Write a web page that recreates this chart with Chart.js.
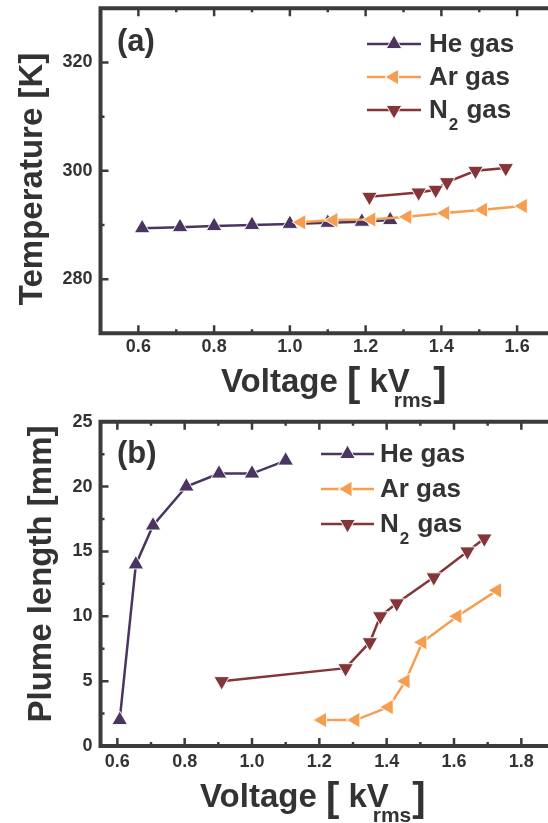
<!DOCTYPE html>
<html>
<head>
<meta charset="utf-8">
<script src="https://cdn.jsdelivr.net/npm/chart.js@4.4.1/dist/chart.umd.min.js"></script>
<style>
  html, body { margin: 0; padding: 0; background: #fff; overflow: hidden; }
  #wrap { position: relative; width: 548px; height: 823px; overflow: hidden; }
  canvas { position: absolute; left: 0; }
  #chartA { top: 0; }
  #chartB { top: 410px; }
</style>
</head>
<body>
<div id="wrap">
  <canvas id="chartA" width="558" height="410"></canvas>
  <canvas id="chartB" width="558" height="413"></canvas>
</div>
<script>
// (a) temperatura frente a voltaje
const heVoltA = [0.61, 0.71, 0.80, 0.90, 1.00, 1.10, 1.19, 1.265];
const heTempA = [289.4, 289.6, 289.8, 290.0, 290.2, 290.4, 290.6, 290.9];
const arVoltA = [1.03, 1.115, 1.215, 1.31, 1.41, 1.51, 1.615];
const arTempA = [290.5, 290.9, 291.0, 291.5, 292.2, 292.8, 293.5];
const n2VoltA = [1.21, 1.34, 1.385, 1.415, 1.49, 1.57];
const n2TempA = [295.2, 296.0, 296.5, 297.9, 300.0, 300.5];

// (b) longitud del plume frente a voltaje
const heVoltB = [0.607, 0.655, 0.706, 0.805, 0.902, 1.0, 1.1];
const heLenB = [2, 14, 17, 20, 21, 21, 22];
const arVoltB = [1.208, 1.307, 1.406, 1.456, 1.506, 1.61, 1.728];
const arLenB = [2, 2, 3, 5, 8, 10, 12];
const n2VoltB = [0.91, 1.278, 1.35, 1.381, 1.43, 1.54, 1.64, 1.69];
const n2LenB = [5, 6, 8, 10, 11, 13, 15, 16];

// ticks
const xTicksA = [0.6, 0.7, 0.8, 0.9, 1.0, 1.1, 1.2, 1.3, 1.4, 1.5, 1.6];
const xLabelsA = [0.6, 0.8, 1.0, 1.2, 1.4, 1.6];
const yTicksA = [280, 290, 300, 310, 320];
const yLabelsA = [280, 300, 320];
const xTicksB = [0.6, 0.7, 0.8, 0.9, 1.0, 1.1, 1.2, 1.3, 1.4, 1.5, 1.6, 1.7, 1.8];
const xLabelsB = [0.6, 0.8, 1.0, 1.2, 1.4, 1.6, 1.8];
const yTicksB = [0, 2.5, 5, 7.5, 10, 12.5, 15, 17.5, 20, 22.5, 25];
const yLabelsB = [0, 5, 10, 15, 20, 25];

const seriesNames = ['He gas', 'Ar gas', 'N2 gas'];
const colors = ['#4a3460', '#f59e50', '#843538'];
const rotations = [0, 270, 180];

const axisColor = '#3b3b3d';
const textColor = '#333333';
const fontFamily = '"Liberation Sans", Arial, sans-serif';

function serie(xs, ys, i) {
  return {
    label: seriesNames[i],
    data: xs.map((v, k) => ({ x: v, y: ys[k] })),
    borderColor: colors[i],
    backgroundColor: colors[i],
    borderWidth: 2.5,
    pointStyle: 'triangle',
    pointRotation: rotations[i],
    pointRadius: 9,
    pointBackgroundColor: colors[i],
    pointBorderColor: 'rgba(255,255,255,0.9)',
    pointBorderWidth: 1,
    tension: 0,
    order: 3 - i,
    clip: false
  };
}

function drawMarker(ctx, i, x, y) {
  ctx.fillStyle = colors[i];
  ctx.strokeStyle = 'rgba(255,255,255,0.9)';
  ctx.lineWidth = 1;
  Chart.helpers.drawPoint(ctx, { pointStyle: 'triangle', rotation: rotations[i], radius: 9, borderWidth: 1 }, x, y);
}

// titulo del eje X con subindice
function drawVoltageTitle(ctx, x, base) {
  ctx.fillStyle = textColor;
  ctx.textAlign = 'left';
  ctx.textBaseline = 'alphabetic';
  ctx.font = 'bold 33px ' + fontFamily;
  ctx.fillText('Voltage ', x, base);
  x += ctx.measureText('Voltage ').width;
  ctx.font = 'bold 40px ' + fontFamily;
  ctx.fillText('[', x, base + 4);
  x += ctx.measureText('[').width;
  ctx.font = 'bold 33px ' + fontFamily;
  ctx.fillText(' kV', x, base);
  const vW = ctx.measureText('V').width;
  x += ctx.measureText(' kV').width;
  ctx.font = 'bold 21px ' + fontFamily;
  const sx = x - vW + 6;
  ctx.fillText('rms', sx, base + 15);
  x = sx + ctx.measureText('rms').width + 1;
  ctx.font = 'bold 40px ' + fontFamily;
  ctx.fillText(']', x, base + 4);
}

const framePlugin = {
  id: 'frame',
  afterDraw(chart, args, o) {
    const { ctx, chartArea: a } = chart;
    const sx = chart.scales.x, sy = chart.scales.y;
    ctx.save();
    ctx.strokeStyle = axisColor;
    ctx.lineCap = 'butt';
    ctx.lineWidth = 2.5;
    ctx.beginPath();
    o.xTicks.forEach(v => {
      const px = sx.getPixelForValue(v);
      const len = o.xLabels.includes(v) ? 8 : 4;
      ctx.moveTo(px, a.bottom); ctx.lineTo(px, a.bottom - len);
      ctx.moveTo(px, a.top); ctx.lineTo(px, a.top + len);
    });
    o.yTicks.forEach(v => {
      if (v <= sy.min || v >= sy.max) return;
      const py = sy.getPixelForValue(v);
      const len = o.yLabels.includes(v) ? 8 : 4;
      ctx.moveTo(a.left, py); ctx.lineTo(a.left + len, py);
    });
    ctx.stroke();

    // marco (el lado derecho queda fuera de la imagen)
    ctx.lineWidth = 4;
    ctx.lineJoin = 'miter';
    ctx.beginPath();
    ctx.moveTo(a.right + 20, a.top);
    ctx.lineTo(a.left, a.top);
    ctx.lineTo(a.left, a.bottom);
    ctx.lineTo(a.right + 20, a.bottom);
    ctx.stroke();

    // letra del panel
    ctx.fillStyle = textColor;
    ctx.font = 'bold 31px ' + fontFamily;
    ctx.textAlign = 'left';
    ctx.textBaseline = 'alphabetic';
    ctx.fillText(o.panel, 117, o.panelY);

    // leyenda
    const lg = o.legend;
    seriesNames.forEach((name, i) => {
      const ly = lg.y + i * lg.dy;
      ctx.strokeStyle = colors[i];
      ctx.lineWidth = 2.5;
      ctx.beginPath();
      ctx.moveTo(lg.x0, ly); ctx.lineTo(lg.x1, ly);
      ctx.stroke();
      drawMarker(ctx, i, (lg.x0 + lg.x1) / 2, ly);
      ctx.fillStyle = textColor;
      ctx.font = 'bold 26px ' + fontFamily;
      ctx.textAlign = 'left';
      if (i === 2) {
        ctx.fillText('N', lg.tx, ly + 8);
        let tx = lg.tx + ctx.measureText('N').width;
        ctx.font = 'bold 17px ' + fontFamily;
        ctx.fillText('2', tx + 1, ly + 20);
        tx += ctx.measureText('2').width + 2;
        ctx.font = 'bold 26px ' + fontFamily;
        ctx.fillText(' gas', tx, ly + 8);
      } else {
        ctx.fillText(name, lg.tx, ly + 8);
      }
    });

    // titulo eje Y
    ctx.save();
    ctx.translate(o.yTitleX, o.yTitleY);
    ctx.rotate(-Math.PI / 2);
    ctx.fillStyle = textColor;
    ctx.font = 'bold 33px ' + fontFamily;
    ctx.textAlign = 'center';
    ctx.textBaseline = 'alphabetic';
    ctx.fillText(o.yTitle, 0, 0);
    ctx.restore();

    // titulo eje X
    drawVoltageTitle(ctx, o.xTitleX, o.xTitleY);
    ctx.restore();
  }
};

function makeChart(id, cfg) {
  const canvas = document.getElementById(id);
  return new Chart(canvas.getContext('2d'), {
    type: 'line',
    data: { datasets: cfg.datasets },
    options: {
      responsive: false,
      animation: false,
      layout: { autoPadding: false, padding: { top: cfg.top, right: 3, left: 0, bottom: 0 } },
      plugins: { legend: { display: false }, tooltip: { enabled: false }, frame: cfg.frame },
      scales: {
        x: {
          type: 'linear',
          min: cfg.xMin, max: cfg.xMax,
          grid: { display: false, drawTicks: false },
          border: { display: false },
          afterBuildTicks: s => { s.ticks = cfg.frame.xTicks.map(v => ({ value: v })); },
          afterFit: s => { s.height = canvas.height - cfg.bottom; s.paddingLeft = 0; s.paddingRight = 0; },
          ticks: {
            autoSkip: false, maxRotation: 0, padding: cfg.xPad,
            color: textColor, font: { family: fontFamily, size: 18, weight: 'bold' },
            callback: v => cfg.frame.xLabels.includes(v) ? v.toFixed(1) : ''
          }
        },
        y: {
          type: 'linear',
          min: cfg.yMin, max: cfg.yMax,
          grid: { display: false, drawTicks: false },
          border: { display: false },
          afterBuildTicks: s => { s.ticks = cfg.frame.yTicks.map(v => ({ value: v })); },
          afterFit: s => { s.width = 100.5; s.paddingTop = 0; s.paddingBottom = 0; },
          ticks: {
            autoSkip: false, padding: 8,
            color: textColor, font: { family: fontFamily, size: 18, weight: 'bold' },
            callback: v => cfg.frame.yLabels.includes(v) ? String(v) : ''
          }
        }
      }
    },
    plugins: [framePlugin]
  });
}

makeChart('chartA', {
  datasets: [serie(heVoltA, heTempA, 0), serie(arVoltA, arTempA, 1), serie(n2VoltA, n2TempA, 2)],
  xMin: 0.5, xMax: 1.7, yMin: 270, yMax: 330,
  top: 8.3, bottom: 333.3, xPad: 3,
  frame: {
    xTicks: xTicksA, xLabels: xLabelsA, yTicks: yTicksA, yLabels: yLabelsA,
    panel: '(a)', panelY: 51,
    legend: { x0: 367, x1: 421, tx: 429, y: 44, dy: 33 },
    yTitle: 'Temperature [K]', yTitleX: 42, yTitleY: 179,
    xTitleX: 221, xTitleY: 392
  }
});

makeChart('chartB', {
  datasets: [serie(heVoltB, heLenB, 0), serie(arVoltB, arLenB, 1), serie(n2VoltB, n2LenB, 2)],
  xMin: 0.55, xMax: 1.9, yMin: 0, yMax: 25,
  top: 11.7, bottom: 336, xPad: 5,
  frame: {
    xTicks: xTicksB, xLabels: xLabelsB, yTicks: yTicksB, yLabels: yLabelsB,
    panel: '(b)', panelY: 53,
    legend: { x0: 321, x1: 374, tx: 380, y: 44, dy: 35 },
    yTitle: 'Plume length [mm]', yTitleX: 51, yTitleY: 164,
    xTitleX: 200, xTitleY: 397
  }
});
</script>
</body>
</html>
